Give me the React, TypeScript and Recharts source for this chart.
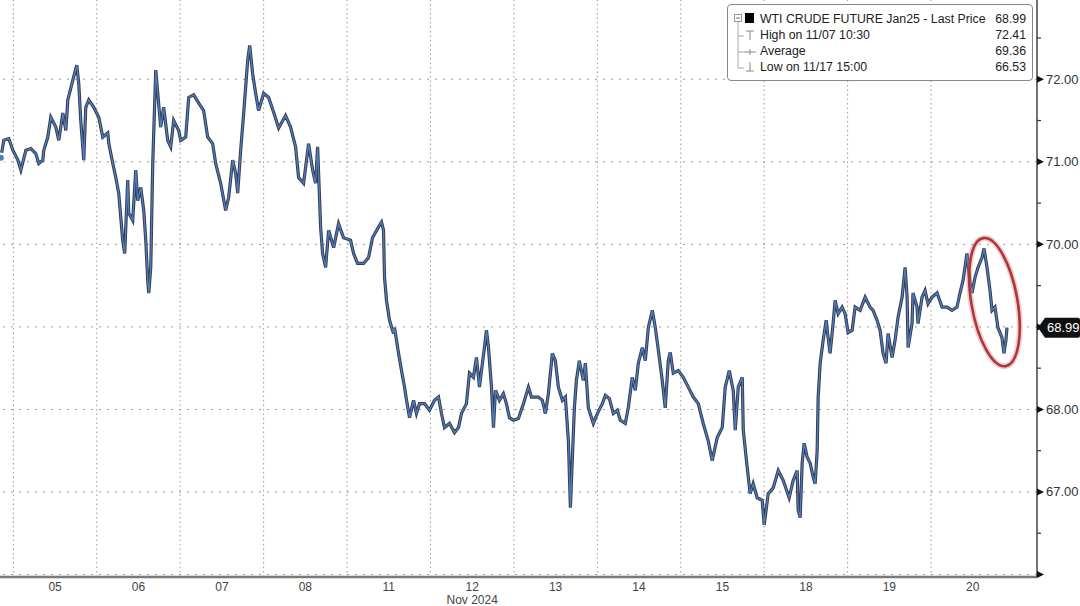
import React from 'react';
import { LineChart, Line, XAxis, YAxis, ReferenceLine, ReferenceDot } from 'recharts';

// trading-day position (0 = start of 11/05 session) and last price
const dayPos = [
  -0.15, -0.114, -0.054, -0.006, 0.054, 0.09, 0.15, 0.21, 0.269, 0.305, 0.353, 0.365, 0.413, 0.449, 0.509, 0.545,
  0.593, 0.629, 0.653, 0.713, 0.76, 0.784, 0.808, 0.844, 0.868, 0.904, 0.964, 1.024, 1.072, 1.132, 1.144, 1.192,
  1.228, 1.263, 1.311, 1.335, 1.371, 1.383, 1.431, 1.467, 1.491, 1.527, 1.563, 1.587, 1.611, 1.623, 1.647, 1.671,
  1.707, 1.731, 1.766, 1.802, 1.85, 1.886, 1.922, 1.982, 2.006, 2.066, 2.102, 2.162, 2.222, 2.281, 2.329, 2.389,
  2.425, 2.485, 2.545, 2.581, 2.629, 2.665, 2.689, 2.725, 2.761, 2.809, 2.833, 2.868, 2.904, 2.94, 3.0, 3.06,
  3.12, 3.18, 3.263, 3.323, 3.383, 3.419, 3.479, 3.539, 3.587, 3.623, 3.647, 3.683, 3.707, 3.743, 3.779, 3.839,
  3.898, 3.958, 4.042, 4.078, 4.126, 4.198, 4.258, 4.305, 4.377, 4.413, 4.437, 4.449, 4.473, 4.509, 4.557, 4.569,
  4.617, 4.653, 4.689, 4.713, 4.749, 4.797, 4.832, 4.868, 4.928, 4.988, 5.048, 5.096, 5.132, 5.168, 5.228, 5.288,
  5.336, 5.371, 5.431, 5.467, 5.515, 5.551, 5.587, 5.611, 5.647, 5.671, 5.695, 5.731, 5.755, 5.779, 5.827, 5.874,
  5.91, 5.946, 5.994, 6.054, 6.114, 6.174, 6.21, 6.293, 6.341, 6.377, 6.413, 6.461, 6.497, 6.533, 6.581, 6.617,
  6.653, 6.677, 6.701, 6.725, 6.749, 6.784, 6.832, 6.856, 6.892, 6.952, 7.0, 7.06, 7.096, 7.144, 7.192, 7.24,
  7.275, 7.335, 7.371, 7.419, 7.455, 7.491, 7.539, 7.575, 7.611, 7.659, 7.695, 7.731, 7.778, 7.814, 7.85, 7.874,
  7.91, 7.97, 8.03, 8.09, 8.15, 8.21, 8.269, 8.329, 8.377, 8.437, 8.497, 8.533, 8.581, 8.629, 8.653, 8.689,
  8.737, 8.749, 8.796, 8.832, 8.868, 8.916, 8.976, 9.0, 9.048, 9.108, 9.168, 9.228, 9.299, 9.347, 9.395, 9.407,
  9.431, 9.455, 9.479, 9.515, 9.551, 9.587, 9.611, 9.635, 9.647, 9.671, 9.707, 9.743, 9.766, 9.79, 9.826, 9.85,
  9.886, 9.934, 9.97, 10.006, 10.054, 10.09, 10.15, 10.21, 10.269, 10.305, 10.353, 10.389, 10.425, 10.461, 10.485, 10.533,
  10.569, 10.605, 10.653, 10.689, 10.713, 10.725, 10.772, 10.784, 10.832, 10.844, 10.892, 10.928, 10.964, 11.012, 11.072, 11.132,
  11.192, 11.251, 11.311, 11.347, 11.383, 11.431, 11.467, 11.491, 11.527, 11.563, 11.611, 11.635, 11.671, 11.707, 11.731, 11.766,
  11.802, 11.85, 11.874, 11.898, 11.91,
];

const lastPrice = [
  71.05, 71.26, 71.28, 71.14, 71.02, 70.9, 71.14, 71.16, 71.1, 70.98, 71.02, 71.14, 71.3, 71.54, 71.42, 71.26,
  71.59, 71.38, 71.75, 71.99, 72.17, 71.95, 71.5, 71.02, 71.66, 71.75, 71.66, 71.54, 71.3, 71.35, 71.22, 70.98,
  70.81, 70.62, 70.05, 69.89, 70.78, 70.38, 70.29, 70.9, 70.53, 70.69, 70.41, 70.05, 69.56, 69.41, 69.72, 70.98,
  72.11, 71.83, 71.42, 71.66, 71.26, 71.18, 71.5, 71.38, 71.26, 71.3, 71.78, 71.81, 71.71, 71.62, 71.3, 71.22,
  70.98, 70.74, 70.41, 70.57, 71.02, 70.86, 70.62, 71.14, 71.59, 72.23, 72.41, 72.07, 71.83, 71.62, 71.83, 71.78,
  71.6, 71.41, 71.56, 71.42, 71.18, 70.81, 70.74, 71.22, 70.9, 70.74, 71.18, 70.21, 69.89, 69.72, 70.17, 69.96,
  70.25, 70.08, 70.05, 69.89, 69.77, 69.77, 69.84, 70.08, 70.21, 70.27, 70.17, 69.6, 69.32, 69.08, 68.92, 68.99,
  68.68, 68.47, 68.27, 68.11, 67.9, 68.11, 67.95, 68.07, 68.07, 67.99, 68.11, 68.15, 67.95, 67.78, 67.83, 67.72,
  67.78, 67.95, 68.07, 68.44, 68.39, 68.63, 68.27, 68.47, 68.75, 68.96, 68.75, 68.27, 67.78, 68.23, 68.11, 68.19,
  68.07, 67.9, 67.87, 67.89, 68.07, 68.27, 68.15, 68.15, 68.11, 67.95, 68.19, 68.68, 68.59, 68.27, 68.11, 68.15,
  67.62, 66.81, 67.42, 68.02, 68.35, 68.59, 68.35, 68.56, 68.02, 67.83, 67.95, 68.07, 68.17, 68.13, 67.95, 67.99,
  67.87, 67.83, 68.02, 68.39, 68.23, 68.56, 68.75, 68.59, 68.99, 69.2, 68.99, 68.72, 68.35, 68.02, 68.59, 68.69,
  68.44, 68.47, 68.39, 68.27, 68.15, 68.07, 67.83, 67.62, 67.38, 67.66, 67.78, 68.27, 68.47, 68.23, 67.75, 68.27,
  68.39, 67.75, 67.3, 66.98, 67.1, 66.93, 66.9, 66.6, 66.98, 67.05, 67.26, 67.14, 66.93, 67.14, 67.26, 66.78,
  66.69, 67.35, 67.59, 67.42, 67.35, 67.18, 67.1, 67.5, 68.15, 68.56, 68.84, 69.08, 68.87, 68.68, 69.04, 69.32,
  69.16, 69.24, 69.16, 68.93, 68.96, 69.24, 69.2, 69.36, 69.24, 69.2, 69.08, 68.96, 68.68, 68.56, 68.92, 68.63,
  68.84, 69.12, 69.36, 69.72, 69.36, 68.75, 69.04, 69.41, 69.24, 69.04, 69.36, 69.44, 69.28, 69.36, 69.41, 69.24,
  69.24, 69.2, 69.24, 69.41, 69.56, 69.89, 69.53, 69.41, 69.6, 69.72, 69.84, 69.95, 69.72, 69.44, 69.2, 69.24,
  68.99, 68.87, 68.68, 68.84, 68.99,
];

const dayLabels = ['05', '06', '07', '08', '11', '12', '13', '14', '15', '18', '19', '20'];
const dayBreaks = [0, 1, 2, 3, 4, 5, 6, 7, 8, 9, 10, 11];
const priceGrid = [66, 67, 68, 69, 70, 71, 72];
const priceTicks = [66, 66.5, 67, 67.5, 68, 68.5, 69, 69.5, 70, 70.5, 71, 71.5, 72, 72.5];
const LAST = 68.99;

const legendRows = [
  { label: 'WTI CRUDE FUTURE Jan25 - Last Price', value: '68.99' },
  { label: 'High on 11/07 10:30', value: '72.41' },
  { label: 'Average', value: '69.36' },
  { label: 'Low on 11/17 15:00', value: '66.53' },
];

const data = dayPos.map((t, i) => ({ t, price: lastPrice[i] }));
const tMin = -0.16;
const tMax = 12.27;

const AXIS_FONT = 'Arial, "Liberation Sans", sans-serif';

const DayTick = (props: any) => {
  const { x, y, payload } = props;
  const idx = Math.round(payload.value - 0.5);
  const label = dayLabels[idx];
  return (
    <g>
      <text x={x} y={y + 14} textAnchor="middle" fontSize={12} fill="#444" fontFamily={AXIS_FONT}>
        {label}
      </text>
      {label === '12' && (
        <text x={x} y={y + 27} textAnchor="middle" fontSize={12} fill="#444" fontFamily={AXIS_FONT}>
          Nov 2024
        </text>
      )}
    </g>
  );
};

const PriceTick = (props: any) => {
  const { x, y, payload } = props;
  const v = payload.value;
  const major = Number.isInteger(v);
  if (!major) {
    return <line x1={x} x2={x + 4} y1={y} y2={y} stroke="#333" strokeWidth={1.2} />;
  }
  // 66 sits on the time axis and 69 is hidden behind the last-price tag
  const showLabel = v > 66 && Math.abs(v - LAST) > 0.3;
  return (
    <g>
      <path d={`M${x},${y - 3.5} L${x + 7},${y} L${x},${y + 3.5} Z`} fill="#111" />
      {showLabel && (
        <text x={x + 9} y={y + 4.5} fontSize={13} fill="#333" fontFamily={AXIS_FONT}>
          {v.toFixed(2)}
        </text>
      )}
    </g>
  );
};

const LastTag = (props: any) => {
  const { cx, cy } = props;
  return (
    <g>
      <path
        d={`M${cx + 1},${cy} L${cx + 8},${cy - 10} L${cx + 41},${cy - 10} Q${cx + 43},${cy - 10} ${cx + 43},${cy - 8} L${cx + 43},${cy + 8} Q${cx + 43},${cy + 10} ${cx + 41},${cy + 10} L${cx + 8},${cy + 10} Z`}
        fill="#111"
      />
      <text x={cx + 10} y={cy + 4.5} fontSize={13} fill="#fff" fontFamily={AXIS_FONT}>
        {LAST.toFixed(2)}
      </text>
    </g>
  );
};

const CircleMark = (props: any) => {
  const { cx, cy } = props;
  return (
    <g transform={`rotate(-10 ${cx} ${cy})`}>
      <ellipse cx={cx} cy={cy} rx={23} ry={65} fill="none" stroke="#c77" strokeOpacity={0.35} strokeWidth={6} />
      <ellipse cx={cx} cy={cy} rx={23} ry={65} fill="none" stroke="#b0353a" strokeWidth={2.6} />
    </g>
  );
};

const LegendBox = () => (
  <div
    style={{
      position: 'absolute',
      left: 727,
      top: 4,
      width: 304,
      height: 75,
      border: '1px solid #888',
      borderRadius: 4,
      background: '#fff',
      fontFamily: AXIS_FONT,
      fontSize: 12.3,
      color: '#222',
    }}
  >
    <svg width={30} height={75} style={{ position: 'absolute', left: 0, top: 0 }}>
      <rect x={6.5} y={9.5} width={7} height={7} fill="#fff" stroke="#999" />
      <line x1={8} x2={12} y1={13} y2={13} stroke="#777" />
      <rect x={17} y={8} width={9} height={10} fill="#000" />
      <line x1={10} x2={10} y1={17} y2={63} stroke="#aaa" />
      <line x1={10} x2={16} y1={31} y2={31} stroke="#aaa" />
      <line x1={10} x2={16} y1={47} y2={47} stroke="#aaa" />
      <line x1={10} x2={16} y1={63} y2={63} stroke="#aaa" />
      <line x1={18} x2={26} y1={26} y2={26} stroke="#888" />
      <line x1={22} x2={22} y1={26} y2={35} stroke="#888" />
      <line x1={16} x2={28} y1={47} y2={47} stroke="#888" />
      <line x1={22} x2={22} y1={44} y2={50} stroke="#888" />
      <line x1={22} x2={22} y1={57} y2={66} stroke="#888" />
      <line x1={18} x2={26} y1={66} y2={66} stroke="#888" />
    </svg>
    {legendRows.map((r, i) => (
      <div
        key={r.label}
        style={{ position: 'absolute', left: 32, right: 6, top: 6 + i * 16, height: 16, lineHeight: '16px', whiteSpace: 'nowrap' }}
      >
        <span>{r.label}</span>
        <span style={{ position: 'absolute', right: 0 }}>{r.value}</span>
      </div>
    ))}
  </div>
);

export default function App() {
  return (
    <div style={{ position: 'absolute', left: 0, top: 0, width: 1080, height: 606, background: '#fff', overflow: 'hidden' }}>
      <LineChart width={1080} height={606} data={data} margin={{ top: 0, right: 0, bottom: 0, left: 0 }}>
        <XAxis
          dataKey="t"
          type="number"
          domain={[tMin, tMax]}
          ticks={dayBreaks.map((d) => d + 0.5)}
          tick={<DayTick />}
          tickLine={false}
          tickSize={0}
          tickMargin={0}
          height={29}
          axisLine={{ stroke: '#7a7a7a', strokeWidth: 2.5 }}
          allowDataOverflow
        />
        <YAxis
          orientation="right"
          type="number"
          domain={[65.97, 72.96]}
          ticks={priceTicks}
          tick={<PriceTick />}
          tickLine={false}
          tickSize={0}
          tickMargin={0}
          width={43}
          axisLine={{ stroke: '#444', strokeWidth: 1.5 }}
          allowDataOverflow
        />
        {priceGrid.map((p) => (
          <ReferenceLine key={`h${p}`} y={p} stroke="#9a9a9a" strokeDasharray="2 6" />
        ))}
        {dayBreaks.map((d) => (
          <ReferenceLine key={`v${d}`} x={d} stroke="#9a9a9a" strokeDasharray="1.5 3" />
        ))}
        <Line
          dataKey="price"
          type="linear"
          stroke="#15182a"
          strokeWidth={3.2}
          strokeOpacity={0.85}
          dot={false}
          isAnimationActive={false}
        />
        <Line
          dataKey="price"
          type="linear"
          stroke="#4a7fc2"
          strokeWidth={1.3}
          dot={false}
          isAnimationActive={false}
        />
        <ReferenceDot x={11.76} y={69.3} r={0} shape={<CircleMark />} ifOverflow="visible" />
        <ReferenceDot x={tMax} y={LAST} r={0} shape={<LastTag />} ifOverflow="visible" />
      </LineChart>
      <LegendBox />
    </div>
  );
}
